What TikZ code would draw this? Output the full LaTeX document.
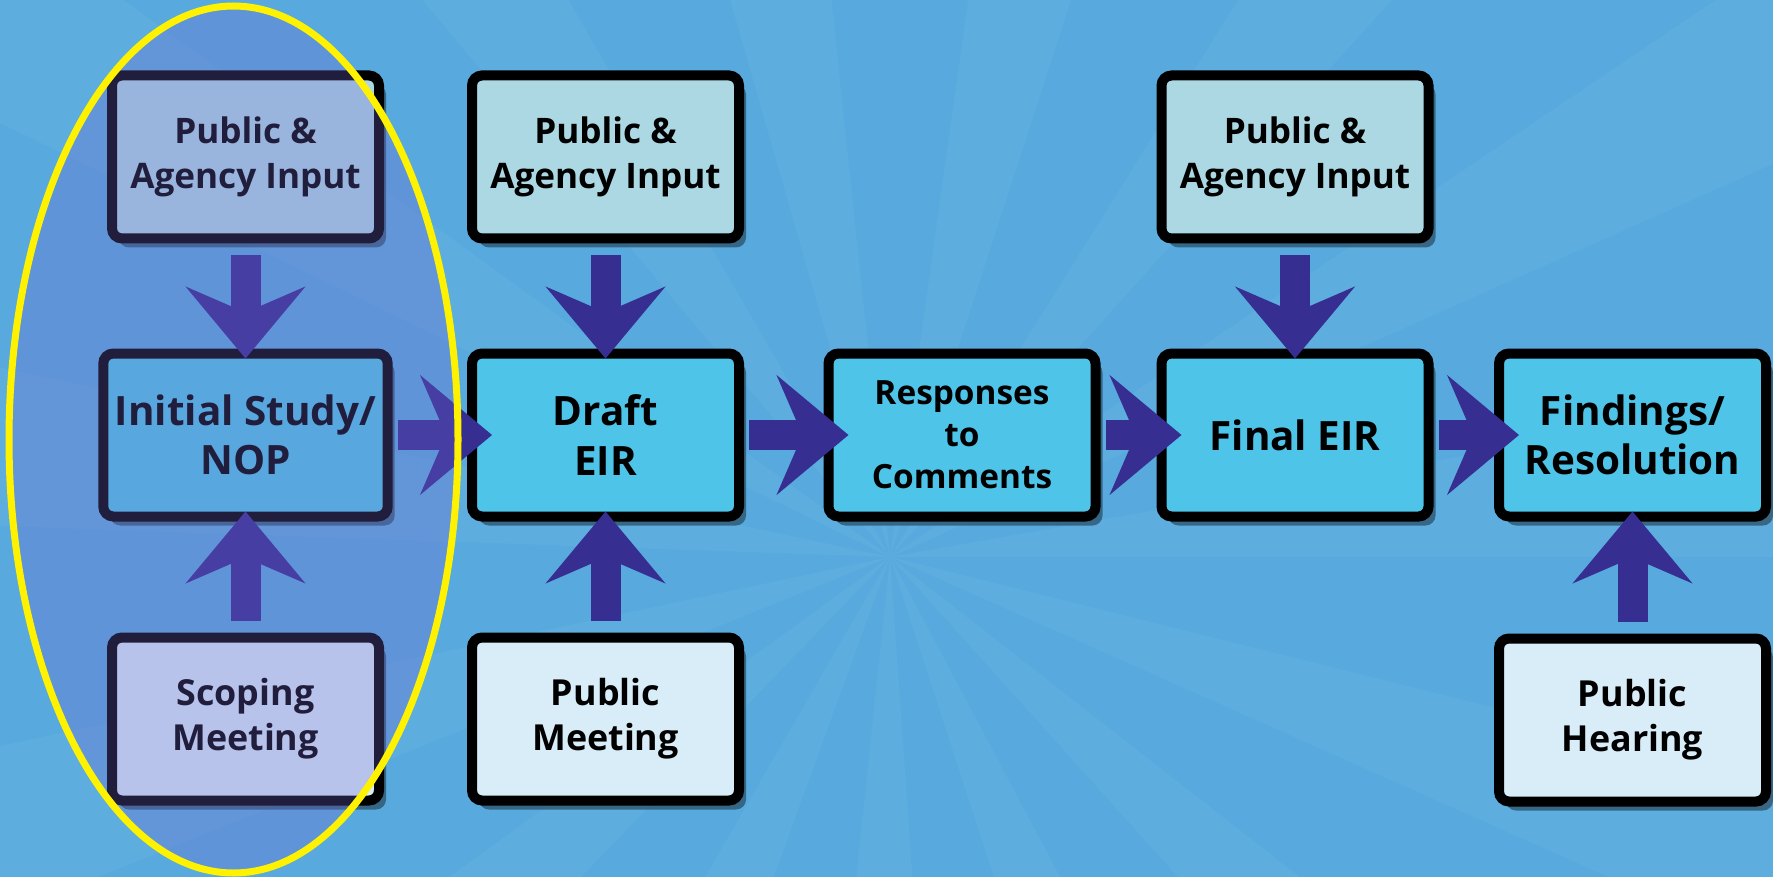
\documentclass[tikz,border=0pt]{standalone}
\usepackage{fontspec}
\setmainfont{Open Sans}
\usetikzlibrary{arrows.meta,shadows}

\definecolor{bgblue}{RGB}{88,170,222}
\definecolor{inputfill}{RGB}{172,216,228}
\definecolor{stepfill}{RGB}{78,196,232}
\definecolor{meetfill}{RGB}{216,237,248}
\definecolor{arrowblue}{RGB}{54,46,145}
\definecolor{tint}{RGB}{112,100,205}

\tikzset{
	box/.style={shape=rectangle, draw=black, line width=0.1cm, rounded corners=0.1cm,
		minimum width=2.67cm, minimum height=1.63cm, align=center,
		drop shadow={shadow xshift=0.07cm, shadow yshift=-0.09cm, fill=black, opacity=0.4}},
	inbox/.style={box, fill=inputfill, font=\bfseries\fontsize{10}{12.6}\selectfont},
	stepbox/.style={box, fill=stepfill, font=\bfseries\fontsize{11.5}{14}\selectfont},
	meetbox/.style={box, fill=meetfill, font=\bfseries\fontsize{10.2}{12.8}\selectfont},
	bigarrow/.style={arrowblue, line width=0.3cm,
		-{Stealth[length=0.72cm, width=1.2cm, inset=0.26cm, line width=0.02cm, fill=arrowblue]}},
	downarrow/.style={bigarrow, shorten <=0.12cm, shorten >=-0.1cm},
	uparrow/.style={bigarrow, shorten <=0.12cm, shorten >=-0.1cm},
	sidearrow/.style={bigarrow, shorten <=0.05cm, shorten >=-0.25cm}
}

\begin{document}
\begin{tikzpicture}
	
	\useasboundingbox (0,0) rectangle (17.73,8.77);
	\fill[bgblue] (0,0) rectangle (17.73,8.77);
	\begin{scope}
		\clip (0,0) rectangle (17.73,8.77);
		\foreach \a in {0,24,...,336}
			\fill[white,opacity=0.035] (8.9,3.2) -- +(\a:20) -- +(\a+10:20) -- cycle;
	\end{scope}
	
	\node[inbox] (in1) at (2.455, 7.2)     {Public \&\\Agency Input};
	\node[stepbox] (nop) at (2.455, 4.42)     {Initial Study/\\NOP};
	\node[meetbox] (scope) at (2.455, 1.58)     {Scoping\\Meeting};
	
	\node[inbox] (in2) at (6.055, 7.2)     {Public \&\\Agency Input};
	\node[stepbox] (draft) at (6.055, 4.42)     {Draft\\EIR};
	\node[meetbox] (pmeet) at (6.055, 1.58)     {Public\\Meeting};
	
	\node[stepbox, font=\bfseries\fontsize{9.5}{12}\selectfont] (resp) at (9.62, 4.42)     {Responses\\to\\Comments};
	
	\node[inbox] (in3) at (12.95, 7.2)     {Public \&\\Agency Input};
	\node[stepbox] (final) at (12.95, 4.42)     {Final EIR};
	
	\node[stepbox] (find) at (16.325, 4.42)     {Findings/\\Resolution};
	\node[meetbox] (hear) at (16.325, 1.57)     {Public\\Hearing};
	
	\path[downarrow] (in1) edge (nop);
	\path[uparrow] (scope) edge (nop);
	\path[sidearrow] (nop) edge (draft);
	\path[downarrow] (in2) edge (draft);
	\path[uparrow] (pmeet) edge (draft);
	\path[sidearrow] (draft) edge (resp);
	\path[sidearrow] (resp) edge (final);
	\path[downarrow] (in3) edge (final);
	\path[sidearrow] (final) edge (find);
	\path[uparrow] (hear) edge (find);
	
	% highlight of the first step
	\fill[tint, opacity=0.3] (2.335, 4.375) ellipse [x radius=2.245, y radius=4.335];
	\draw[yellow, line width=0.07cm] (2.335, 4.375) ellipse [x radius=2.245, y radius=4.335];
	\end{tikzpicture}
\end{document}
